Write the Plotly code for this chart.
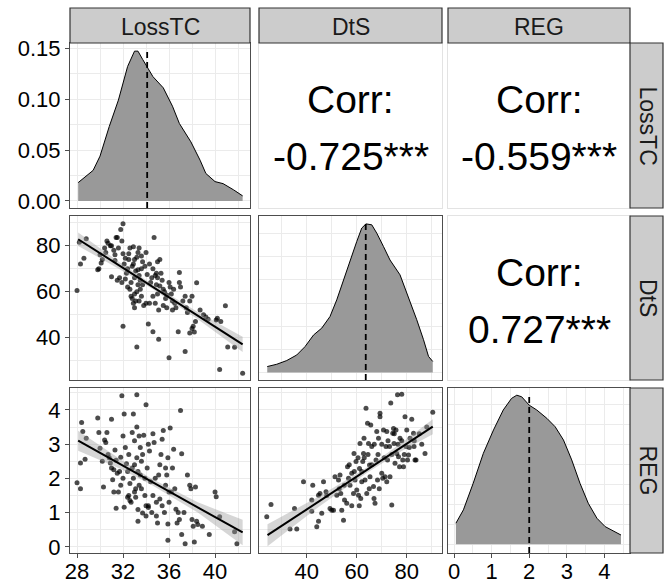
import plotly.graph_objects as go
from plotly.subplots import make_subplots

VARS = ["LossTC", "DtS", "REG"]
CORR_LABELS = {(0, 1): "-0.725***", (0, 2): "-0.559***", (1, 2): "0.727***"}

# diagonal densities
LOSS_DENS_X = [28.1, 29.4, 30.0, 30.8, 31.6, 32.4, 33.0, 33.3, 33.7, 34.2, 34.6, 35.5,
               36.3, 36.9, 37.9, 38.7, 39.2, 40.0, 40.7, 41.6, 42.4]
LOSS_DENS_Y = [0.018, 0.030, 0.044, 0.073, 0.099, 0.132, 0.147, 0.147, 0.139, 0.129, 0.122,
               0.111, 0.093, 0.076, 0.058, 0.040, 0.027, 0.019, 0.017, 0.011, 0.005]
DTS_DENS_X = [24.2, 28.0, 32.0, 36.0, 39.3, 42.7, 46.0, 49.3, 52.0, 54.7, 57.3, 60.0, 62.0,
              63.7, 66.0, 68.0, 70.7, 73.3, 77.3, 80.7, 84.0, 86.7, 88.7, 90.4]
DTS_DENS_Y = [0.0013, 0.0018, 0.0026, 0.0038, 0.0056, 0.0081, 0.0096, 0.0121, 0.0157, 0.0200,
              0.0243, 0.0283, 0.0312, 0.0321, 0.0319, 0.0301, 0.0272, 0.0243, 0.0211, 0.0164,
              0.0114, 0.0071, 0.0035, 0.0024]
REG_DENS_X = [0.05, 0.25, 0.51, 0.78, 1.05, 1.31, 1.53, 1.67, 1.80, 2.00, 2.20, 2.47, 2.69,
              2.91, 3.13, 3.35, 3.57, 3.80, 4.02, 4.24, 4.44]
REG_DENS_Y = [0.0525, 0.086, 0.1525, 0.2275, 0.286, 0.336, 0.365, 0.373, 0.369, 0.348, 0.336,
              0.315, 0.294, 0.261, 0.211, 0.1525, 0.1025, 0.065, 0.044, 0.032, 0.023]
MEDIANS = [34.1, 63.6, 2.0]

# scatter points (x, y)
LOSS_DTS = [
    (28.0, 60.5), (28.3, 72), (28.2, 81.5), (28.6, 74.5), (28.8, 83), (29.8, 69.5), (29.9, 70),
    (30.0, 76), (30.2, 74), (30.4, 79), (30.6, 82), (30.7, 81), (30.9, 80), (31.0, 66.5),
    (31.2, 78), (31.3, 73.5), (31.0, 80), (30.5, 77), (31.4, 83.5), (31.5, 83.5), (31.8, 87),
    (32.0, 89.5), (31.9, 82), (31.6, 79), (31.7, 66), (31.5, 65), (31.9, 64), (32.0, 45),
    (32.0, 76.5), (32.1, 72), (32.3, 68), (32.4, 62), (32.6, 79), (32.5, 74), (32.4, 70),
    (32.6, 61), (32.7, 58), (32.8, 57), (32.9, 55), (33.0, 53), (33.1, 56), (33.2, 60),
    (33.3, 63), (33.0, 66), (33.1, 69), (32.9, 72), (33.2, 75), (33.3, 77), (33.4, 79),
    (33.2, 36), (33.5, 65), (33.4, 67), (33.6, 70), (33.7, 73), (33.5, 61), (33.6, 58),
    (33.8, 54), (33.4, 56), (34.0, 77), (34.0, 55), (34.2, 46), (34.6, 42.6), (34.3, 55),
    (34.4, 64), (34.5, 66), (34.6, 70), (34.7, 83.5), (34.8, 67), (34.9, 68), (35.0, 66),
    (34.9, 63), (35.0, 73), (35.2, 74), (35.0, 59), (34.8, 55), (35.1, 39.3), (35.1, 52),
    (35.3, 68), (35.4, 65), (35.5, 61), (35.6, 60), (35.7, 57), (35.5, 54), (35.8, 53),
    (36.0, 31.3), (36.0, 64), (36.1, 62), (36.2, 59), (36.3, 56), (36.4, 61), (36.5, 55),
    (36.6, 53), (36.8, 42.6), (36.9, 68.3), (36.9, 64), (37.0, 62), (37.2, 56), (37.4, 34),
    (37.4, 58), (37.5, 53), (37.6, 51), (37.8, 56), (38.0, 58), (38.1, 45), (38.0, 44),
    (37.8, 42), (38.2, 42.5), (38.3, 47), (38.4, 63.9), (38.7, 52), (39.0, 50), (39.2, 49),
    (39.4, 48), (40.1, 47.7), (40.2, 48.4), (40.5, 47), (40.4, 26.2), (40.9, 53.9),
    (41.1, 36), (41.7, 35.8), (42.4, 24.5), (32.2, 74.5), (32.5, 76.5), (32.8, 71),
    (33.0, 74), (32.7, 64), (33.3, 69.5), (33.6, 75.5), (33.9, 71), (32.2, 65.5),
    (33.0, 59), (33.7, 63), (34.1, 67.5), (34.3, 72), (35.2, 62.5), (35.8, 58.5),
    (36.3, 52), (34.6, 58), (32.9, 79.5), (31.3, 76), (30.1, 72.5),
]
LOSS_REG = [
    (28.0, 1.87), (28.3, 1.70), (28.3, 2.45), (28.4, 3.63), (28.5, 3.37), (28.7, 2.56),
    (28.8, 3.17), (29.8, 3.76), (29.9, 3.34), (30.0, 2.88), (30.2, 2.50), (30.3, 1.75),
    (30.4, 3.12), (30.5, 3.05), (30.6, 3.34), (30.8, 2.60), (31.0, 3.73), (31.0, 2.30),
    (31.1, 1.96), (31.2, 2.25), (31.3, 2.83), (31.4, 1.13), (31.4, 2.53), (31.5, 2.15),
    (31.6, 1.60), (31.7, 2.20), (31.8, 2.62), (31.9, 4.41), (32.0, 3.24), (32.0, 2.00),
    (32.1, 3.88), (32.1, 1.16), (32.3, 2.43), (32.4, 2.20), (32.5, 1.50), (32.6, 1.35),
    (32.7, 1.30), (32.8, 3.34), (32.9, 3.88), (33.0, 3.10), (33.0, 2.40), (33.1, 1.70),
    (33.2, 4.44), (33.2, 3.50), (33.2, 2.60), (33.3, 1.09), (33.3, 0.75), (33.4, 3.24),
    (33.5, 2.90), (33.5, 2.10), (33.6, 1.70), (33.7, 0.99), (33.8, 3.26), (33.9, 2.00),
    (34.0, 4.15), (34.0, 0.90), (34.2, 1.15), (34.2, 1.20), (34.3, 2.80), (34.5, 1.00),
    (34.6, 3.30), (34.7, 3.05), (34.8, 2.00), (34.9, 0.90), (35.0, 0.70), (35.1, 2.10),
    (35.2, 1.40), (35.4, 3.14), (35.5, 3.40), (35.6, 1.00), (35.7, 2.30), (35.8, 2.10),
    (35.9, 2.60), (35.9, 0.67), (35.9, 0.19), (36.0, 1.60), (36.1, 3.47), (36.2, 1.60),
    (36.4, 2.85), (36.5, 1.70), (36.6, 1.10), (36.7, 0.70), (36.9, 0.80), (37.0, 3.98),
    (37.1, 2.72), (37.1, 0.36), (37.3, 1.00), (37.4, 0.09), (37.6, 2.10), (37.8, 1.80),
    (37.9, 1.70), (38.0, 0.80), (38.1, 0.60), (38.2, 0.14), (38.3, 1.75), (38.4, 0.75),
    (38.5, 0.65), (38.9, 0.60), (39.5, 0.36), (40.0, 1.60), (40.1, 1.46), (40.4, 0.88),
    (41.7, 0.44), (41.9, 0.09), (32.2, 2.90), (32.5, 2.70), (32.8, 2.30), (33.0, 1.60),
    (33.1, 1.45), (33.4, 1.80), (33.6, 2.50), (33.7, 2.70), (34.1, 2.30), (34.4, 1.90),
    (34.6, 1.50), (34.9, 1.30), (35.2, 2.40), (35.4, 1.20), (35.7, 1.80), (36.3, 2.30),
    (32.9, 2.00), (33.3, 2.20), (32.6, 1.85), (34.0, 1.20), (31.8, 1.80), (31.2, 1.60),
    (30.7, 2.70), (30.9, 2.45), (36.0, 1.30), (36.8, 1.00), (35.3, 2.70), (34.2, 3.00),
    (33.9, 1.50), (32.4, 1.45),
]
DTS_REG = [
    (24.0, 0.88), (25.7, 1.24), (33.3, 0.52), (36.0, 0.52), (35.1, 1.12), (38.7, 1.90),
    (42.0, 1.37), (42.4, 1.80), (42.0, 1.04), (44.0, 0.59), (44.7, 0.75), (46.0, 0.98),
    (44.7, 1.51), (45.3, 1.56), (46.7, 1.90), (47.7, 1.61), (49.3, 1.12), (50.0, 1.07),
    (50.7, 1.07), (51.3, 2.05), (52.0, 1.51), (52.7, 1.95), (53.3, 2.10), (53.6, 1.56),
    (54.0, 1.07), (54.7, 0.78), (55.1, 1.37), (56.0, 1.27), (56.3, 2.34), (56.7, 2.00),
    (57.3, 1.80), (58.0, 2.15), (58.7, 1.56), (58.9, 2.73), (59.3, 1.95), (59.7, 2.49),
    (60.0, 1.66), (60.7, 1.51), (61.1, 2.29), (61.3, 3.02), (61.6, 1.41), (62.0, 1.90),
    (62.4, 2.49), (62.7, 2.73), (62.9, 3.17), (63.3, 1.95), (63.7, 4.05), (64.0, 1.56),
    (64.3, 3.61), (64.7, 3.02), (65.1, 2.39), (65.3, 2.05), (65.6, 3.56), (66.0, 2.93),
    (66.7, 1.76), (66.9, 1.41), (67.3, 1.27), (67.7, 2.54), (68.0, 3.37), (68.3, 1.95),
    (68.7, 3.17), (69.3, 3.90), (69.3, 3.80), (70.0, 2.15), (70.4, 2.00), (70.7, 3.41),
    (71.3, 2.05), (71.7, 2.93), (72.0, 3.37), (72.3, 2.54), (73.1, 2.93), (73.3, 2.05),
    (73.6, 4.20), (74.0, 1.22), (74.4, 3.32), (74.7, 3.46), (74.9, 3.02), (75.3, 2.44),
    (75.7, 3.41), (76.0, 2.73), (76.3, 4.44), (76.7, 2.63), (77.1, 2.34), (77.3, 3.17),
    (78.0, 4.46), (78.4, 2.54), (78.7, 2.34), (79.3, 3.80), (79.7, 2.93), (80.0, 3.41),
    (80.3, 2.54), (80.7, 2.68), (81.3, 3.17), (82.0, 3.73), (82.7, 3.32), (82.9, 2.93),
    (83.3, 2.54), (83.7, 2.54), (87.3, 2.73), (90.4, 3.93), (57.0, 2.40), (59.0, 2.20),
    (60.5, 2.60), (62.0, 2.20), (63.0, 2.60), (64.5, 2.70), (66.0, 2.40), (67.0, 3.00),
    (68.5, 2.70), (70.0, 3.00), (71.0, 2.60), (72.5, 3.10), (74.0, 2.70), (75.0, 3.30),
    (76.5, 3.00), (78.0, 3.10), (79.0, 2.70), (81.0, 2.90), (83.0, 3.10), (55.0, 1.80),
    (53.0, 1.70), (48.0, 1.50), (58.0, 1.20), (61.0, 1.20), (65.0, 1.70), (69.0, 1.70),
    (72.0, 1.90), (85.0, 3.30), (86.0, 3.00), (88.0, 3.50),
]

# lm fits with confidence bands
FIT_LD_X = [28.1, 31.7, 34.5, 38.5, 42.4]
FIT_LD_Y = [82.8, 71.3, 62.35, 49.6, 37.1]
FIT_LD_LO = [79.9, 69.8, 61.35, 48.0, 33.8]
FIT_LD_HI = [85.7, 72.8, 63.35, 51.2, 40.4]
FIT_LR_X = [28.1, 31.7, 34.5, 38.5, 42.4]
FIT_LR_Y = [3.10, 2.43, 1.90, 1.15, 0.42]
FIT_LR_LO = [2.81, 2.29, 1.81, 1.00, 0.05]
FIT_LR_HI = [3.39, 2.57, 1.99, 1.30, 0.79]
FIT_DR_X = [24.3, 45.0, 64.0, 78.0, 90.4]
FIT_DR_Y = [0.34, 1.33, 2.24, 2.92, 3.51]
FIT_DR_LO = [0.02, 1.18, 2.16, 2.80, 3.29]
FIT_DR_HI = [0.66, 1.48, 2.32, 3.04, 3.73]

X_TICKS = [[28, 32, 36, 40], [40, 60, 80], [0, 1, 2, 3, 4]]
X_MINOR = [[30, 34, 38, 42], [30, 50, 70, 90], [0.5, 1.5, 2.5, 3.5, 4.5]]
X_RANGES = [[27.39, 43.04], [20.9, 94.1], [-0.16, 4.68]]
Y_TICKS = [[0.0, 0.05, 0.10, 0.15], [40, 60, 80], [0, 1, 2, 3, 4]]
Y_TICKTEXT = [["0.00", "0.05", "0.10", "0.15"], ["40", "60", "80"], ["0", "1", "2", "3", "4"]]
Y_MINOR = [[0.025, 0.075, 0.125], [30, 50, 70, 90], [0.5, 1.5, 2.5, 3.5, 4.5]]
Y_RANGES = [[-0.0069, 0.155], [21.6, 92.9], [-0.18, 4.64]]
DIAG_Y = {1: ([0, 0.01, 0.02, 0.03], [0.005, 0.015, 0.025], [-0.0016, 0.0338]),
          2: ([0, 0.1, 0.2, 0.3], [0.05, 0.15, 0.25, 0.35], [-0.022, 0.391])}

W, H = 671, 584
COL_PX = [(70, 250), (259, 442), (448, 630)]
ROW_PX = [(43, 208), (216, 380), (388, 553)]
FONT = "Liberation Sans, Arial, sans-serif"
GRID = "#EBEBEB"
BORDER = "#4D4D4D"

fig = make_subplots(rows=3, cols=3)


def axis_names(r, c):
    k = r * 3 + c + 1
    return ("xaxis" if k == 1 else f"xaxis{k}"), ("yaxis" if k == 1 else f"yaxis{k}"), k


densities = [(LOSS_DENS_X, LOSS_DENS_Y), (DTS_DENS_X, DTS_DENS_Y), (REG_DENS_X, REG_DENS_Y)]
scatters = {(1, 0): (LOSS_DTS, FIT_LD_X, FIT_LD_Y, FIT_LD_LO, FIT_LD_HI),
            (2, 0): (LOSS_REG, FIT_LR_X, FIT_LR_Y, FIT_LR_LO, FIT_LR_HI),
            (2, 1): (DTS_REG, FIT_DR_X, FIT_DR_Y, FIT_DR_LO, FIT_DR_HI)}

for i in range(3):
    dx, dy = densities[i]
    fig.add_trace(go.Scatter(x=dx, y=dy, mode="lines", fill="tozeroy",
                             fillcolor="#999999", line=dict(color="black", width=1),
                             hoverinfo="skip"), row=i + 1, col=i + 1)
    ylow = Y_RANGES[0][0] if i == 0 else DIAG_Y[i][2][0]
    fig.add_trace(go.Scatter(x=[MEDIANS[i], MEDIANS[i]], y=[ylow, max(dy)], mode="lines",
                             line=dict(color="black", width=1.8, dash="6px,4px"),
                             hoverinfo="skip"), row=i + 1, col=i + 1)

for (r, c), (pts, fx, fy, lo, hi) in scatters.items():
    fig.add_trace(go.Scatter(x=[p[0] for p in pts], y=[p[1] for p in pts], mode="markers",
                             marker=dict(size=5, color="rgba(0,0,0,0.7)", line=dict(width=0))),
                  row=r + 1, col=c + 1)
    fig.add_trace(go.Scatter(x=fx + fx[::-1], y=hi + lo[::-1], mode="lines", fill="toself",
                             fillcolor="rgba(153,153,153,0.4)", line=dict(width=0),
                             hoverinfo="skip"), row=r + 1, col=c + 1)
    fig.add_trace(go.Scatter(x=fx, y=fy, mode="lines", line=dict(color="black", width=2)),
                  row=r + 1, col=c + 1)

for r in range(3):
    for c in range(3):
        xn, yn, k = axis_names(r, c)
        xd = [COL_PX[c][0] / W, COL_PX[c][1] / W]
        yd = [1 - ROW_PX[r][1] / H, 1 - ROW_PX[r][0] / H]
        if c > r:
            # correlation panels
            blank = dict(showgrid=False, zeroline=False, showticklabels=False, ticks="",
                         showline=True, mirror=True, linecolor="#E3E3E3", linewidth=1,
                         range=[0, 1], automargin=False)
            fig.layout[xn].update(domain=xd, **blank)
            fig.layout[yn].update(domain=yd, **blank)
            fig.add_trace(go.Scatter(x=[], y=[]), row=r + 1, col=c + 1)
            ref = "" if k == 1 else str(k)
            for ytxt, txt in [(0.655, "Corr:"), (0.31, CORR_LABELS[(r, c)])]:
                fig.add_annotation(x=0.5, y=ytxt, xref=f"x{ref} domain", yref=f"y{ref} domain",
                                   text=txt, showarrow=False, xanchor="center", yanchor="middle",
                                   font=dict(size=39, color="black", family=FONT))
            continue
        common = dict(showgrid=True, gridcolor=GRID, gridwidth=1.1, zeroline=False,
                      showline=True, mirror=True, linecolor=BORDER, linewidth=1,
                      tickfont=dict(size=22, color="black", family=FONT),
                      tickcolor=BORDER, ticklen=4, automargin=False)
        fig.layout[xn].update(domain=xd, range=X_RANGES[c], tickmode="array",
                              tickvals=X_TICKS[c], ticklabelstandoff=-5,
                              minor=dict(tickvals=X_MINOR[c], showgrid=True, gridcolor=GRID,
                                         gridwidth=0.6),
                              showticklabels=(r == 2), ticks="outside" if r == 2 else "",
                              **common)
        if r == c and r > 0:
            yt, ym, yr = DIAG_Y[r]
            fig.layout[yn].update(domain=yd, range=yr, tickmode="array", tickvals=yt,
                                  minor=dict(tickvals=ym, showgrid=True, gridcolor=GRID,
                                             gridwidth=0.6),
                                  showticklabels=False, ticks="", **common)
        else:
            fig.layout[yn].update(domain=yd, range=Y_RANGES[r], tickmode="array",
                                  tickvals=Y_TICKS[r], ticktext=Y_TICKTEXT[r],
                                  minor=dict(tickvals=Y_MINOR[r], showgrid=True, gridcolor=GRID,
                                             gridwidth=0.6),
                                  showticklabels=(c == 0), ticks="outside" if c == 0 else "",
                                  **common)

# facet strips
for c in range(3):
    fig.add_shape(type="rect", xref="paper", yref="paper",
                  x0=COL_PX[c][0] / W, x1=COL_PX[c][1] / W, y0=1 - 43 / H, y1=1 - 8 / H,
                  fillcolor="#CCCCCC", line=dict(color="#333333", width=1.2))
    fig.add_annotation(x=(COL_PX[c][0] + COL_PX[c][1]) / 2 / W, y=1 - 27 / H,
                       xref="paper", yref="paper", text=VARS[c], showarrow=False,
                       xanchor="center", yanchor="middle",
                       font=dict(size=23, color="#1A1A1A", family=FONT))
for r in range(3):
    fig.add_shape(type="rect", xref="paper", yref="paper", x0=630 / W, x1=663 / W,
                  y0=1 - ROW_PX[r][1] / H, y1=1 - ROW_PX[r][0] / H,
                  fillcolor="#CCCCCC", line=dict(color="#333333", width=1.2))
    fig.add_annotation(x=648 / W, y=1 - (ROW_PX[r][0] + ROW_PX[r][1]) / 2 / H,
                       xref="paper", yref="paper", text=VARS[r], showarrow=False,
                       textangle=90, xanchor="center", yanchor="middle",
                       font=dict(size=23, color="#1A1A1A", family=FONT))

fig.update_layout(width=W, height=H, autosize=False, showlegend=False,
                  margin=dict(l=0, r=0, t=0, b=0),
                  paper_bgcolor="white", plot_bgcolor="white",
                  font=dict(family=FONT))

fig.write_html("out.html", config={"displayModeBar": False},
               post_script="document.body.style.margin='0';")
